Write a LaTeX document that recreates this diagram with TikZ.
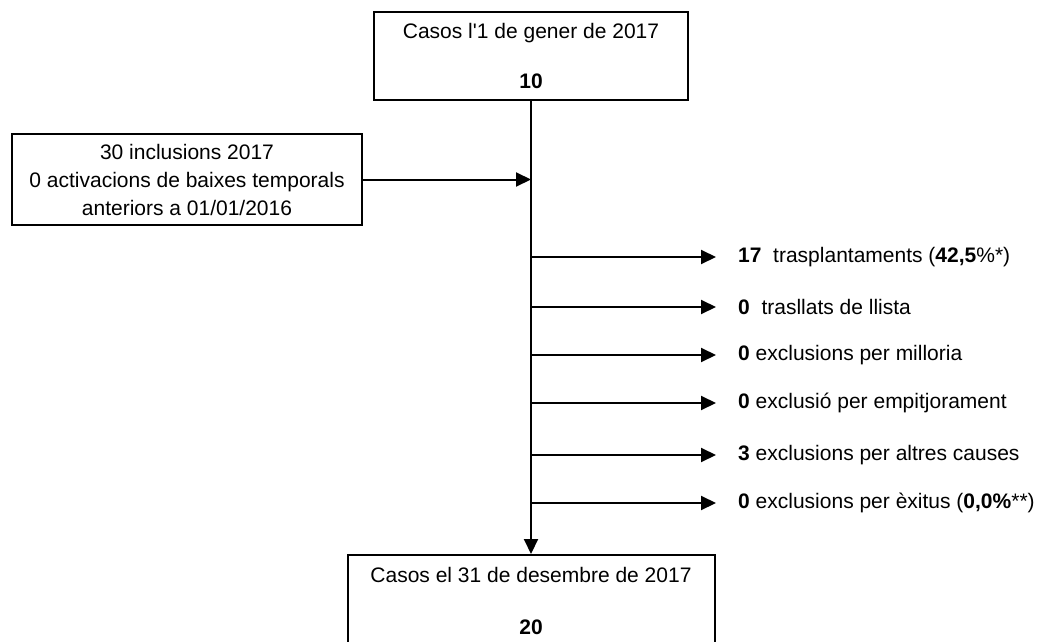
\documentclass[tikz,border=0pt]{standalone}
\usepackage{fontspec}
\setmainfont{Liberation Sans}
\usetikzlibrary{arrows.meta}
\begin{document}
\begin{tikzpicture}[x=1pt,y=-1pt,
  txt/.style={font=\fontsize{21}{28}\selectfont},
  box/.style={txt, draw, line width=2pt, inner sep=0pt, align=center},
  conn/.style={line width=2pt, -{Triangle[length=15pt,width=14pt]}},
  lbl/.style={txt, anchor=west, inner sep=0pt}]
\useasboundingbox (0,0) rectangle (1041,642);
\node[box, minimum width=314pt, minimum height=88pt] (start) at (531,56)
  {Casos l\textquotesingle 1 de gener de 2017\\[22pt]\textbf{10}};
\node[box, minimum width=350pt, minimum height=91pt] (incl) at (187,179.5)
  {30 inclusions 2017\\0 activacions de baixes temporals\\anteriors a 01/01/2016};
\node[box, minimum width=367pt, minimum height=92pt] (end) at (531,601)
  {Casos el 31 de desembre de 2017\\[24pt]\textbf{20}};
\node[lbl] (l1) at (738,257) {\textbf{17}\ \ trasplantaments (\textbf{42,5}\%*)};
\node[lbl] (l2) at (738,307) {\textbf{0}\ \ trasllats de llista};
\node[lbl] (l3) at (738,355) {\textbf{0} exclusions per milloria};
\node[lbl] (l4) at (738,403) {\textbf{0} exclusió per empitjorament};
\node[lbl] (l5) at (738,455) {\textbf{3} exclusions per altres causes};
\node[lbl] (l6) at (738,503) {\textbf{0} exclusions per èxitus (\textbf{0,0\%}**)};
\coordinate (j) at (start.south |- incl.east);
\draw[conn] (start.south) -- (end.north);
\draw[conn] (incl.east) -- (j);
\foreach \i in {1,...,6}{
  \coordinate (b\i) at (start.south |- l\i.west);
  \draw[conn, shorten >=22pt] (b\i) -- (l\i.west);
}
\end{tikzpicture}
\end{document}
